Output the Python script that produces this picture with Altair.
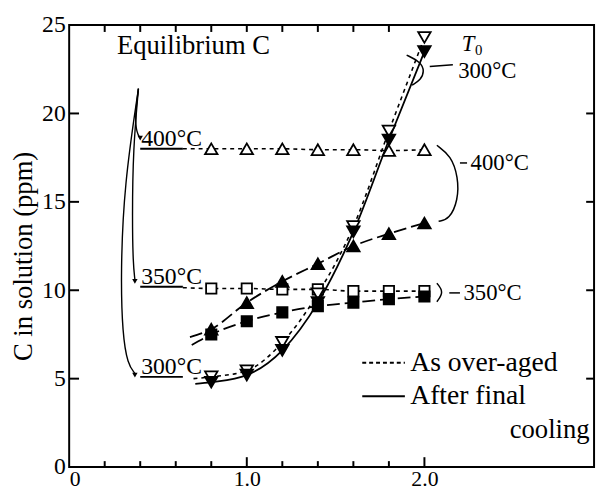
import altair as alt
import pandas as pd

# ---- data ----------------------------------------------------------------
x_pts = [0.8, 1.0, 1.2, 1.4, 1.6, 1.8, 2.0]
c400_aged = [18.0, 18.0, 18.0, 17.95, 17.95, 17.9, 17.95]
c400_cool = [7.8, 9.3, 10.5, 11.5, 12.5, 13.2, 13.8]
c350_aged = [10.1, 10.1, 10.05, 10.05, 9.95, 9.95, 9.95]
c350_cool = [7.5, 8.25, 8.75, 9.1, 9.3, 9.5, 9.65]
c300_aged = [5.1, 5.45, 7.05, 9.8, 13.6, 19.0, 24.3]
c300_cool = [4.8, 5.2, 6.6, 9.3, 13.3, 18.5, 23.5]

# start of each drawn curve (left of first symbol)
start_x = {"400a": 0.64, "350a": 0.64, "300a": 0.70, "400c": 0.68, "350c": 0.69, "300c": 0.71}
start_y = {"400a": 18.0, "350a": 10.15, "300a": 5.0, "400c": 7.35, "350c": 6.9, "300c": 4.7}

eq_labels = ["400°C", "350°C", "300°C"]
eq_levels = [18.0, 10.2, 5.1]

x_ticks_minor = [0.2, 0.4, 0.6, 0.8, 1.2, 1.4, 1.6, 1.8]
x_ticks_major = [1.0, 2.0]
x_ticks_top = [0.2, 0.4, 0.6, 0.8, 1.0, 1.2, 1.4, 1.6, 1.8]
y_ticks = [5, 10, 15, 20]
x_labels = [0, 1.0, 2.0]
y_labels = [0, 5, 10, 15, 20, 25]

FONT = "Liberation Serif"
W, H = 532, 448
xs = alt.Scale(domain=[0, 2.955], nice=False, zero=False)
ys = alt.Scale(domain=[0, 25], nice=False)

AXX = alt.Axis(values=x_labels,
               labelExpr="datum.value == 0 ? '0' : format(datum.value, '.1f')",
               ticks=False, domain=False, grid=False, title=None, labelFont=FONT,
               labelFontSize=22, labelPadding=2, labelColor="black")
AXY = alt.Axis(values=y_labels, ticks=False, domain=False, grid=False,
               title="C in solution (ppm)", titleFont=FONT, titleFontSize=27,
               titleFontWeight="normal", titleColor="black", titleX=-46, titleY=234,
               titleAngle=270, titleAlign="center", titleBaseline="middle",
               labelFont=FONT, labelFontSize=24, labelPadding=4, labelColor="black")


def X(f="x"):
    return alt.X(f"{f}:Q", scale=xs, axis=AXX)


def Y(f="y"):
    return alt.Y(f"{f}:Q", scale=ys, axis=AXY)


def series(key, ys_):
    xs_ = [start_x[key]] + x_pts
    yv = [start_y[key]] + ys_
    return pd.DataFrame({"s": key, "x": xs_, "y": yv, "o": range(len(xs_))})


def curve(df_rows, dash=None, width=1.6, interp="monotone"):
    kw = dict(color="black", strokeWidth=width, interpolate=interp)
    if dash:
        kw["strokeDash"] = dash
    return alt.Chart(df_rows).mark_line(**kw).encode(
        x=X(), y=Y(), detail="s:N", order="o:Q")


def path(key, pts):
    return pd.DataFrame({"s": key, "x": [p[0] for p in pts], "y": [p[1] for p in pts],
                         "o": range(len(pts))})


def txt(x, y, s, size, align="left", baseline="middle", style="normal"):
    return alt.Chart(pd.DataFrame({"x": [x], "y": [y], "t": [s]})).mark_text(
        font=FONT, fontSize=size, align=align, baseline=baseline, fontStyle=style,
        color="black").encode(x=X(), y=Y(), text="t:N")


def pts(vals, shape, filled, size):
    df = pd.DataFrame({"x": x_pts, "y": vals})
    return alt.Chart(df).mark_point(
        shape=shape, filled=True, size=size,
        fill="black" if filled else "white", stroke="black",
        strokeWidth=1.8, opacity=1).encode(x=X(), y=Y())


# inward tick marks
tick_layers = [
    alt.Chart(pd.DataFrame({"x": x_ticks_minor})).mark_rule(color="black", strokeWidth=2)
    .encode(x=X(), y=alt.value(H), y2=alt.value(H - 6)),
    alt.Chart(pd.DataFrame({"x": x_ticks_major})).mark_rule(color="black", strokeWidth=2)
    .encode(x=X(), y=alt.value(H), y2=alt.value(H - 10)),
    alt.Chart(pd.DataFrame({"x": x_ticks_top})).mark_rule(color="black", strokeWidth=2)
    .encode(x=X(), y=alt.value(0), y2=alt.value(7)),
    alt.Chart(pd.DataFrame({"y": y_ticks})).mark_rule(color="black", strokeWidth=2)
    .encode(y=Y(), x=alt.value(0), x2=alt.value(10)),
    alt.Chart(pd.DataFrame({"y": y_ticks})).mark_rule(color="black", strokeWidth=2)
    .encode(y=Y(), x=alt.value(W - 8), x2=alt.value(W)),
]

# data curves
aged = pd.concat([series("400a", c400_aged), series("350a", c350_aged),
                  series("300a", c300_aged)])
cool_d = pd.concat([series("400c", c400_cool), series("350c", c350_cool)])
cool_s = series("300c", c300_cool)
line_layers = [
    curve(aged, dash=[4, 4], width=1.6),
    curve(cool_d, dash=[13, 5], width=1.8),
    curve(cool_s, width=1.8),
]

# equilibrium levels
eq_df = pd.DataFrame({"x": [0.40] * 3, "x2": [0.64] * 3, "y": eq_levels, "t": eq_labels})
eq_rules = alt.Chart(eq_df).mark_rule(color="black", strokeWidth=2).encode(
    x=X(), x2="x2:Q", y=Y())
eq_text = alt.Chart(eq_df).mark_text(font=FONT, fontSize=24, align="left",
                                     baseline="alphabetic", dx=1, dy=-3,
                                     color="black").encode(x=X(), y=Y(), text="t:N")

# arrows from "Equilibrium C"
arrows = pd.concat([
    path("a400", [(0.39, 21.4), (0.37, 19.8), (0.38, 18.9), (0.40, 18.6)]),
    path("a350", [(0.39, 21.4), (0.36, 18.0), (0.355, 14.0), (0.36, 11.5), (0.37, 10.6)]),
    path("a300", [(0.39, 21.4), (0.31, 16.0), (0.29, 11.0), (0.30, 7.5), (0.33, 5.8), (0.37, 5.3)]),
])
arrow_line = curve(arrows, width=1.4, interp="basis")
tips = alt.Chart(pd.DataFrame({"x": [0.40, 0.37, 0.37], "y": [18.6, 10.5, 5.2]})).mark_point(
    shape="triangle-down", filled=True, size=30, color="black", opacity=1).encode(x=X(), y=Y())

# brackets on the right
brackets = pd.concat([
    path("b300", [(1.90, 23.3), (1.98, 22.9), (2.00, 22.4), (1.98, 21.9), (1.93, 21.6)]),
    path("b400", [(2.07, 18.2), (2.15, 17.6), (2.19, 16.4), (2.19, 15.1), (2.14, 14.0), (2.08, 13.9)]),
    path("b350", [(2.07, 10.4), (2.11, 9.9), (2.07, 9.35)]),
    path("c300", [(2.03, 22.65), (2.16, 22.75)]),
    path("c400", [(2.20, 17.2), (2.24, 17.2)]),
    path("c350", [(2.14, 9.85), (2.20, 9.85)]),
])
bracket_line = curve(brackets, width=1.5, interp="basis")

# legend
leg = pd.DataFrame({"x": [1.65, 1.65], "x2": [1.89, 1.89], "y": [5.9, 4.0], "k": ["a", "c"]})
leg_aged = alt.Chart(leg[leg.k == "a"]).mark_rule(color="black", strokeWidth=1.8,
                                                 strokeDash=[4, 3]).encode(x=X(), x2="x2:Q", y=Y())
leg_cool = alt.Chart(leg[leg.k == "c"]).mark_rule(color="black", strokeWidth=2).encode(
    x=X(), x2="x2:Q", y=Y())

texts = [
    txt(0.70, 23.8, "Equilibrium C", 27, align="center"),
    txt(2.21, 23.9, "T", 23, style="italic"),
    txt(2.285, 23.6, "0", 15),
    txt(2.19, 22.4, "300°C", 23),
    txt(2.26, 17.2, "400°C", 23),
    txt(2.22, 9.85, "350°C", 23),
    txt(1.92, 5.9, "As over-aged", 28),
    txt(1.92, 4.0, "After final", 28),
    txt(2.93, 2.1, "cooling", 27, align="right"),
]

points = [
    pts(c400_aged, "triangle-up", False, 160),
    pts(c350_aged, "square", False, 110),
    pts(c300_aged, "triangle-down", False, 160),
    pts(c400_cool, "triangle-up", True, 160),
    pts(c350_cool, "square", True, 110),
    pts(c300_cool, "triangle-down", True, 160),
]

chart = alt.layer(
    *tick_layers, *line_layers, eq_rules, eq_text, arrow_line, tips,
    bracket_line, leg_aged, leg_cool, *texts, *points
).properties(
    width=W, height=H, background="white",
    padding={"left": 62, "top": 14, "right": 4, "bottom": 22},
    autosize=alt.AutoSizeParams(type="none"),
).configure_view(stroke="black", strokeWidth=2)

chart.save("out.html", embed_options={"renderer": "svg", "actions": False})
